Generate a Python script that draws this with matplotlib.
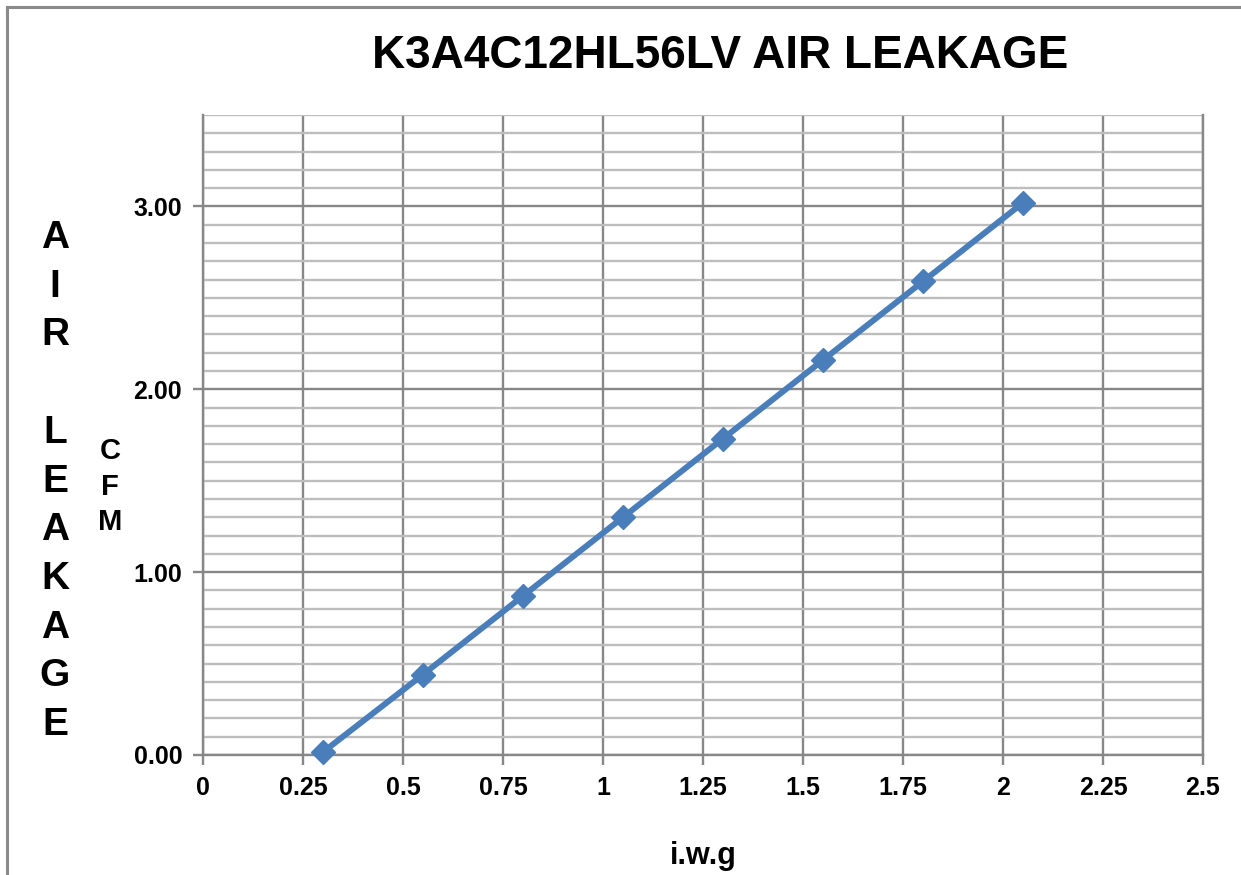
import matplotlib
matplotlib.use('Agg')
import matplotlib.pyplot as plt
from matplotlib.ticker import MultipleLocator, FormatStrFormatter, FuncFormatter
from matplotlib.lines import Line2D

plt.rcParams['font.family'] = ['Liberation Sans', 'DejaVu Sans']
plt.rcParams['font.weight'] = 'bold'

# data
pressure = [0.3, 0.55, 0.8, 1.05, 1.3, 1.55, 1.8, 2.05]
leakage = [0.016, 0.44, 0.87, 1.30, 1.73, 2.16, 2.59, 3.02]
x_ticks = [0, 0.25, 0.5, 0.75, 1, 1.25, 1.5, 1.75, 2, 2.25, 2.5]

title = 'K3A4C12HL56LV AIR LEAKAGE'
xlabel = 'i.w.g'
ylabel_big = 'AIR LEAKAGE'
ylabel_small = 'CFM'

fig = plt.figure(figsize=(12.41, 8.75), dpi=100)
ax = fig.add_axes([203/1241, 1-755/875, 1000/1241, 640/875])

major_c = '#878787'
minor_c = '#bdbdbd'

ax.set_xlim(0, 2.5)
ax.set_ylim(0, 3.5)
ax.set_xticks(x_ticks)
ax.xaxis.set_major_formatter(FuncFormatter(lambda v, p: ('%g' % v)))
ax.yaxis.set_major_locator(MultipleLocator(1))
ax.yaxis.set_minor_locator(MultipleLocator(0.1))
ax.yaxis.set_major_formatter(FormatStrFormatter('%.2f'))

ax.grid(which='major', color=major_c, linewidth=1.7)
ax.grid(which='minor', axis='y', color=minor_c, linewidth=1.7)
ax.tick_params(which='major', length=7, width=1.7, color=major_c,
               labelsize=18, pad=8)
ax.tick_params(which='minor', length=0)
for lab in ax.get_xticklabels() + ax.get_yticklabels():
    lab.set_fontweight('bold')

for s in ['left', 'bottom', 'right']:
    ax.spines[s].set_color(major_c)
    ax.spines[s].set_linewidth(1.7)
ax.spines['top'].set_visible(False)
ax.set_axisbelow(True)

ax.plot(pressure, leakage, color='#4a7ebb', linewidth=4.3, marker='D',
        markersize=12, clip_on=False, zorder=5)

fig.text(720/1241, 1-56/875, title, ha='center', va='center',
         fontsize=33, fontweight='bold')
fig.text(703/1241, 1-856/875, xlabel, ha='center', va='center',
         fontsize=22, fontweight='bold')

# stacked vertical labels
step = 48.7
y0 = 238
k = 0
for ch in ylabel_big:
    if ch != ' ':
        fig.text(55/1241, 1-(y0 + k*step)/875, ch, ha='center', va='center',
                 fontsize=28, fontweight='bold')
    k += 1
for i, ch in enumerate(ylabel_small):
    fig.text(110/1241, 1-(451 + i*35.5)/875, ch, ha='center', va='center',
             fontsize=21, fontweight='bold')

# outer frame (left and top only visible)
fig.add_artist(Line2D([6.5/1241, 6.5/1241], [0, 1-7/875], transform=fig.transFigure,
                      color='#8a8a8a', linewidth=2.2))
fig.add_artist(Line2D([6.5/1241, 1], [1-7/875, 1-7/875], transform=fig.transFigure,
                      color='#8a8a8a', linewidth=2.2))

fig.savefig('out.png', dpi=100)
